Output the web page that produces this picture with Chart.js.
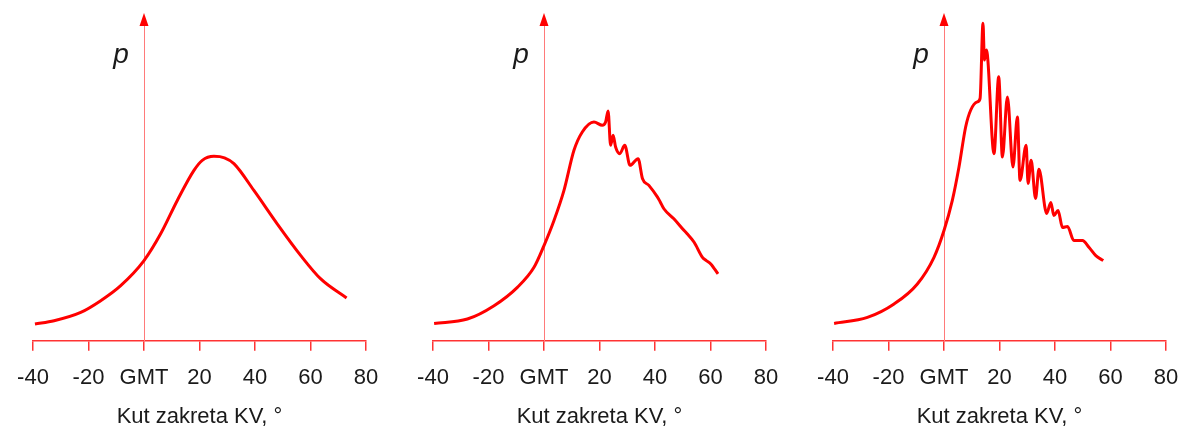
<!DOCTYPE html>
<html>
<head>
<meta charset="utf-8">
<script src="https://cdn.jsdelivr.net/npm/chart.js@4.4.0/dist/chart.umd.min.js"></script>
<style>
  html, body { margin: 0; padding: 0; background: #fff; overflow: hidden; }
  .panel { position: absolute; top: 0; width: 400px; height: 427px; }
</style>
</head>
<body>
<div class="panel" style="left:0px"><canvas id="c1" width="400" height="427"></canvas></div>
<div class="panel" style="left:400px"><canvas id="c2" width="400" height="427"></canvas></div>
<div class="panel" style="left:800px"><canvas id="c3" width="400" height="427"></canvas></div>
<script>
// x-axis ticks (crank angle) and title
const xTicks = [-40, -20, 0, 20, 40, 60, 80];
const xTitle = 'Kut zakreta KV, °';
const yLabel = 'p';

// panel 1 - smooth pressure curve
const angle1 = [-39.3, -32.4, -22.8, -15.6, -8.4, 0, 6, 12, 18, 21, 25.2, 29, 32.4, 39.6, 48, 56.5, 63.7, 73];
const press1 = [16.7, 20, 28.3, 40, 55, 80, 106.7, 140, 170, 180, 184, 182.5, 176.7, 150, 116.7, 85, 61.7, 42.7];

// panel 2 - light knock
const angle2 = [-39.6, -27.6, -18, -9.6, -3.6, 0, 3.6, 7.2, 10.8, 13.8, 18, 21, 22.2, 23.1, 24, 24.9, 25.8, 27.3, 29.1, 31, 33.9, 35.5, 37.8, 40.9, 41.8, 43.2, 46.8, 50.5, 51.5, 54.1, 57.1, 58.5, 60.1, 62.7];
const press2 = [17.3, 21.7, 35, 53.3, 73.3, 95, 120, 150, 190, 208.3, 218.3, 215, 218.3, 229.3, 195, 205, 193.3, 186.7, 195, 175, 181.7, 161.7, 155, 143.3, 139, 131.7, 121.7, 110, 107, 98.3, 83.3, 80, 76.7, 66.7];

// panel 3 - heavy knock
const angle3 = [-39.6, -27.6, -18, -9.6, -3.6, 0, 3, 5.4, 7.8, 9.6, 12, 13, 14.05, 14.56, 15.28, 18.02, 19.71, 21.05, 22.85, 24.86, 26.45, 27.39, 29.6, 30.3, 31.4, 33.0, 34.2, 37.0, 38.5, 39.6, 41.1, 42.7, 44.5, 46.8, 49.9, 52.3, 54.7, 57.4];
const press3 = [17.3, 23.3, 36.7, 56.7, 83.3, 110, 140, 173.3, 213.3, 230, 238.3, 241.7, 316.7, 280, 290, 186.7, 263.3, 183.3, 243.3, 173.3, 223.3, 160, 195, 157, 180, 142, 171, 127, 138, 125, 130, 113, 114, 100, 100, 93, 85, 80];

const axisRed = '#ff3333';
const pinkLine = '#ff7a7a';
const textColor = '#1a1a1a';
const fontFamily = '"Liberation Sans", Arial, sans-serif';

// arrow on top of the y axis and the "p" label
const arrowPlugin = {
    id: 'arrowP',
    afterDraw(chart) {
        const ctx = chart.ctx;
        const x0 = chart.scales.x.getPixelForValue(0);
        const top = chart.chartArea.top;
        ctx.save();
        ctx.fillStyle = '#ff0000';
        ctx.beginPath();
        ctx.moveTo(x0, top - 7);
        ctx.lineTo(x0 - 4.5, top + 6);
        ctx.lineTo(x0 + 4.5, top + 6);
        ctx.closePath();
        ctx.fill();
        ctx.fillStyle = textColor;
        ctx.font = 'italic 28px ' + fontFamily;
        ctx.textAlign = 'center';
        ctx.textBaseline = 'alphabetic';
        ctx.fillText(yLabel, x0 - 23, top + 43);
        ctx.restore();
    }
};

function makeChart(id, xs, ys) {
    const ctx = document.getElementById(id).getContext('2d');
    return new Chart(ctx, {
        type: 'line',
        data: {
            datasets: [{
                data: xs.map((x, i) => ({ x: x, y: ys[i] })),
                borderColor: '#ff0000',
                borderWidth: 3,
                pointRadius: 0,
                fill: false,
                cubicInterpolationMode: 'monotone'
            }]
        },
        options: {
            responsive: false,
            animation: false,
            devicePixelRatio: 1,
            layout: { padding: { left: 33, right: 34, top: 20, bottom: 0 } },
            plugins: { legend: { display: false }, tooltip: { enabled: false } },
            scales: {
                x: {
                    type: 'linear',
                    min: -40,
                    max: 80,
                    afterBuildTicks: axis => { axis.ticks = xTicks.map(v => ({ value: v })); },
                    grid: { drawOnChartArea: false, drawTicks: true, tickLength: 10, color: axisRed, lineWidth: 1.5 },
                    border: { display: true, color: axisRed, width: 1.5 },
                    ticks: {
                        padding: 14,
                        color: textColor,
                        font: { family: fontFamily, size: 22 },
                        maxRotation: 0,
                        autoSkip: false,
                        callback: v => v === 0 ? 'GMT' : String(v)
                    },
                    title: {
                        display: true,
                        text: xTitle,
                        color: textColor,
                        font: { family: fontFamily, size: 22, lineHeight: 0.9 },
                        padding: { top: 2, bottom: 0 }
                    }
                },
                y: {
                    type: 'linear',
                    min: 0,
                    max: 320,
                    position: { x: 0 },
                    grid: { display: false },
                    border: { display: true, color: pinkLine, width: 1 },
                    ticks: { display: false }
                }
            }
        },
        plugins: [arrowPlugin]
    });
}

makeChart('c1', angle1, press1);
makeChart('c2', angle2, press2);
makeChart('c3', angle3, press3);
</script>
</body>
</html>
